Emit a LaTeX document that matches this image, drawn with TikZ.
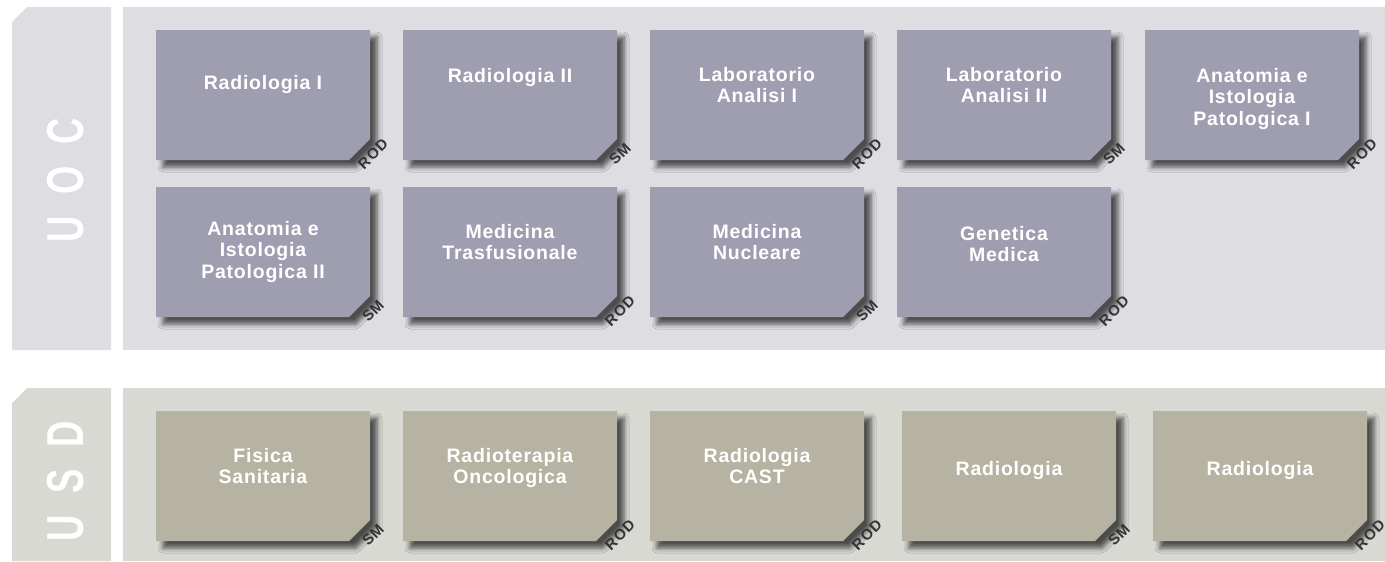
\documentclass[tikz,border=0pt]{standalone}
\usepackage{fontspec}
\setmainfont{Liberation Sans}
\newfontfamily\boxfont[LetterSpace=4]{Liberation Sans}
\newfontfamily\tagfont[LetterSpace=6]{Liberation Sans}
\newfontfamily\tabfont[LetterSpace=60]{Liberation Sans}
\usepackage{tikz}
\usetikzlibrary{calc}
\usetikzlibrary{positioning}
\usetikzlibrary{shadows.blur}
\definecolor{uocpanel}{HTML}{DDDDE2}
\definecolor{uocbox}{HTML}{9E9EB0}
\definecolor{usdpanel}{HTML}{D9D9D4}
\definecolor{usdbox}{HTML}{B6B3A3}
\definecolor{tagtext}{HTML}{333333}

% box with the cut corner at south east, drawn under a named node
\newcommand{\unitfill}[2]{%
	\fill [#2, unitshadow] (#1.north west) -- (#1.north east) -- ([yshift=21pt]#1.south east)
		-- ([xshift=-21pt]#1.south east) -- (#1.south west) -- cycle;}

\begin{document}
\begin{tikzpicture}[x=1pt, y=-1pt,
	unit/.style={rectangle, minimum width=214pt, minimum height=130pt,
		inner sep=0pt, outer sep=0pt, anchor=north west},
	unitshadow/.style={blur shadow={shadow xshift=7pt, shadow yshift=-7pt,
		shadow blur radius=5pt, shadow opacity=65}},
	unitname/.style={text=white, align=center, inner sep=0pt,
		font=\boxfont\bfseries\fontsize{19.5}{21.5}\selectfont},
	unittag/.style={rotate=45, text=tagtext, inner sep=0pt,
		font=\tagfont\bfseries\fontsize{15}{15}\selectfont},
	tablabel/.style={rotate=90, text=white, inner sep=0pt,
		font=\tabfont\bfseries\fontsize{52}{52}\selectfont}]
	\useasboundingbox (0,0) rectangle (1385,562);
	\fill [white] (0,0) rectangle (1385,562);

	%\draw [help lines, step=50, gray] (0,0) grid (1385,562);

	% UOC
	\fill [uocpanel] (12,22) -- (27,7) -- (111,7) -- (111,350) -- (12,350) -- cycle;
	\fill [uocpanel] (123,7) rectangle (1385,350);
	\node (uoc) [tablabel] at (66,180) {\scalebox{0.7}[1]{UOC}};

	\node (a1) [unit] at (156,30) {};
	\node (a2) [unit, right=33pt of a1] {};
	\node (a3) [unit, right=33pt of a2] {};
	\node (a4) [unit, right=33pt of a3] {};
	\node (a5) [unit, right=34pt of a4] {};

	\node (b1) [unit] at (156,187) {};
	\node (b2) [unit, right=33pt of b1] {};
	\node (b3) [unit, right=33pt of b2] {};
	\node (b4) [unit, right=33pt of b3] {};

	\unitfill{a1}{uocbox} \unitfill{a2}{uocbox} \unitfill{a3}{uocbox}
	\unitfill{a4}{uocbox} \unitfill{a5}{uocbox}
	\unitfill{b1}{uocbox} \unitfill{b2}{uocbox} \unitfill{b3}{uocbox}
	\unitfill{b4}{uocbox}

	\node (na1) [unitname, below=45pt of a1.north] {Radiologia I};
	\node (na2) [unitname, below=38pt of a2.north] {Radiologia II};
	\node (na3) [unitname, below=37pt of a3.north] {Laboratorio\\Analisi I};
	\node (na4) [unitname, below=37pt of a4.north] {Laboratorio\\Analisi II};
	\node (na5) [unitname, below=38pt of a5.north] {Anatomia e\\Istologia\\Patologica I};

	\node (nb1) [unitname, below=34pt of b1.north] {Anatomia e\\Istologia\\Patologica II};
	\node (nb2) [unitname, below=37pt of b2.north] {Medicina\\Trasfusionale};
	\node (nb3) [unitname, below=37pt of b3.north] {Medicina\\Nucleare};
	\node (nb4) [unitname, below=39pt of b4.north] {Genetica\\Medica};

	\node (ta1) [unittag] at ($(a1.south east)+(3,-6)$) {ROD};
	\node (ta2) [unittag] at ($(a2.south east)+(3,-6)$) {SM};
	\node (ta3) [unittag] at ($(a3.south east)+(3,-6)$) {ROD};
	\node (ta4) [unittag] at ($(a4.south east)+(3,-6)$) {SM};
	\node (ta5) [unittag] at ($(a5.south east)+(3,-6)$) {ROD};

	\node (tb1) [unittag] at ($(b1.south east)+(3,-6)$) {SM};
	\node (tb2) [unittag] at ($(b2.south east)+(3,-6)$) {ROD};
	\node (tb3) [unittag] at ($(b3.south east)+(3,-6)$) {SM};
	\node (tb4) [unittag] at ($(b4.south east)+(3,-6)$) {ROD};

	% USD
	\fill [usdpanel] (12,403) -- (27,388) -- (111,388) -- (111,561) -- (12,561) -- cycle;
	\fill [usdpanel] (123,388) rectangle (1385,561);
	\node (usd) [tablabel] at (66,481) {\scalebox{0.7}[1]{USD}};

	\node (c1) [unit] at (156,411) {};
	\node (c2) [unit, right=33pt of c1] {};
	\node (c3) [unit, right=33pt of c2] {};
	\node (c4) [unit, right=38pt of c3] {};
	\node (c5) [unit, right=37pt of c4] {};

	\unitfill{c1}{usdbox} \unitfill{c2}{usdbox} \unitfill{c3}{usdbox}
	\unitfill{c4}{usdbox} \unitfill{c5}{usdbox}

	\node (nc1) [unitname, below=37pt of c1.north] {Fisica\\Sanitaria};
	\node (nc2) [unitname, below=37pt of c2.north] {Radioterapia\\Oncologica};
	\node (nc3) [unitname, below=37pt of c3.north] {Radiologia\\CAST};
	\node (nc4) [unitname, below=50pt of c4.north] {Radiologia};
	\node (nc5) [unitname, below=50pt of c5.north] {Radiologia};

	\node (tc1) [unittag] at ($(c1.south east)+(3,-6)$) {SM};
	\node (tc2) [unittag] at ($(c2.south east)+(3,-6)$) {ROD};
	\node (tc3) [unittag] at ($(c3.south east)+(3,-6)$) {ROD};
	\node (tc4) [unittag] at ($(c4.south east)+(3,-6)$) {SM};
	\node (tc5) [unittag] at ($(c5.south east)+(3,-6)$) {ROD};
\end{tikzpicture}
\end{document}
